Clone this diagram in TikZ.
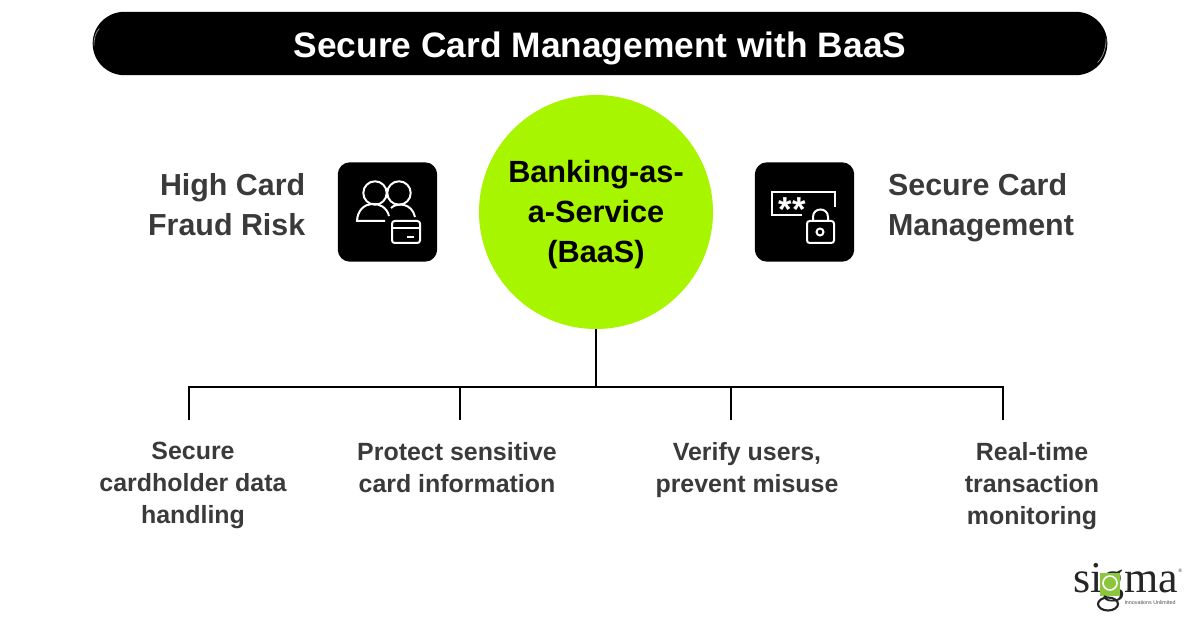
\documentclass[tikz,border=0pt]{standalone}
\usepackage{fontspec}
\setmainfont{Liberation Sans}
\newfontfamily\logofont{Liberation Serif}
\usetikzlibrary{positioning, calc, shapes.misc}
\definecolor{hubgreen}{HTML}{A8F500}
\definecolor{labelgray}{HTML}{3A3A3A}
\definecolor{logogreen}{HTML}{8CC63F}
\tikzstyle{Title} = [
fill=black, text=white, rounded rectangle,
minimum width=761pt, minimum height=47.5pt, inner sep=0pt,
text height=21pt, text depth=0pt,
font=\fontsize{26.5}{32}\selectfont\bfseries]
\tikzstyle{Hub} = [
circle, fill=hubgreen, minimum size=175.5pt, inner sep=0pt, align=center,
font=\fontsize{23}{30}\selectfont\bfseries]
\tikzstyle{IconBox} = [
fill=black, rounded corners=9pt, minimum width=74.5pt, minimum height=74.5pt, inner sep=0pt]
\tikzstyle{Side} = [
text=labelgray, font=\fontsize{22.8}{30}\selectfont\bfseries, inner sep=0pt]
\tikzstyle{Leaf} = [
text=labelgray, align=center, anchor=north, inner sep=0pt,
font=\fontsize{18.7}{24}\selectfont\bfseries]
\tikzstyle{Link} = [black, line width=2pt]
\tikzstyle{Glyph} = [white, line width=1.5pt]
\tikzstyle{Shine} = [black!45, line width=0.6pt]

\begin{document}
\begin{tikzpicture}[x=0.75pt, y=-0.75pt]
    \useasboundingbox (0,0) rectangle (1200,627);
    \node [Title] (title) at (600,43.5) {Secure Card Management with BaaS};
    \draw[Shine] ($(title.west)+(7,-15)$) .. controls ($(title.west)+(3,-11)$) and ($(title.west)+(1.5,-5)$) .. ($(title.west)+(1.5,2)$);
    \draw[Shine] ($(title.east)+(-1.5,-5)$) .. controls ($(title.east)+(-1.5,4)$) and ($(title.east)+(-4,13)$) .. ($(title.east)+(-10,19)$);
    \node [Hub] (hub) at (596,212) {\rule{0pt}{20.5pt}Banking-as-\\a-Service\\(BaaS)};
    \node [IconBox, left=31pt of hub] (risk) {};
    \node [IconBox, right=31pt of hub] (manage) {};
    \node [Side, align=right, left=24pt of risk, yshift=5.5pt] (risktext) {High Card\\Fraud Risk};
    \node [Side, align=left, right=25pt of manage, yshift=3.25pt] (managetext) {Secure Card\\Management};

    % branches under the circle
    \coordinate (join) at (596,387);
    \coordinate (drop1) at (189,387);
    \coordinate (drop2) at (460,387);
    \coordinate (drop3) at (731,387);
    \coordinate (drop4) at (1003,387);
    \coordinate (end1) at (189,420);
    \coordinate (end2) at (460,420);
    \coordinate (end3) at (731,420);
    \coordinate (end4) at (1003,420);
    \draw[Link] (hub.south) -- (join);
    \draw[Link, line cap=rect] (drop1) -- (drop4);
    \foreach \n in {1,2,3,4}
        \draw[Link] (drop\n) -- (end\n);

    \node [Leaf] (leaf1) at (193,442) {Secure\\cardholder data\\handling};
    \node [Leaf] (leaf2) at (457,442) {Protect sensitive\\card information};
    \node [Leaf] (leaf3) at (747,442) {Verify users,\\prevent misuse};
    \node [Leaf] (leaf4) at (1032,442) {Real-time\\transaction\\monitoring};

    % left icon
    \draw[Glyph] (375,193) circle (11.7);
    \draw[Glyph] (399,193) circle (11.7);
    \draw[Glyph] (385,221) -- (357,221) .. controls (358,199) and (385,199) .. (389,216);
    \draw[Glyph] (391,208) .. controls (397,202) and (412,203) .. (415,217);
    \draw[Glyph, rounded corners=2pt] (392,221) rectangle (420,243);
    \draw[Glyph] (392,228) -- (420,228);
    \draw[Glyph] (407,237) -- (414,237);

    % right icon
    \draw[Glyph] (835,207) -- (835,192) -- (772,192) -- (772,215) -- (802,215);
    \node [white, inner sep=0pt, font=\fontsize{26}{26}\selectfont\bfseries] (stars) at (792,210) {*\kern0.6pt*};
    \draw[Glyph, rounded corners=2pt] (807,221) rectangle (834,243);
    \draw[Glyph] (813,221) -- (813,217) .. controls (813,207) and (828,207) .. (828,217) -- (828,221);
    \draw[Glyph] (820,232) circle (3.5);

    % logo
    \node [anchor=base west, inner sep=0pt, text=black!85, font=\logofont\fontsize{33}{33}\selectfont] (logo) at (1073,592) {sigma\rlap{\raisebox{14.5pt}{\fontsize{4}{4}\selectfont ®}}};
    \fill[logogreen] (1100,573) rectangle (1120,596);
    \draw[white, fill=logogreen, line width=1.2pt] (1110,583) circle (7);
    \draw[black!85, line width=1.5pt] (1104,596) -- (1107,598);
    \draw[black!85, line width=1.6pt] (1108,604) ellipse (10 and 6.5);
    \node [inner sep=0pt, text=black!70, font=\fontsize{4}{4}\selectfont] (tagline) at (1150,603) {Innovations Unlimited};
\end{tikzpicture}
\end{document}
